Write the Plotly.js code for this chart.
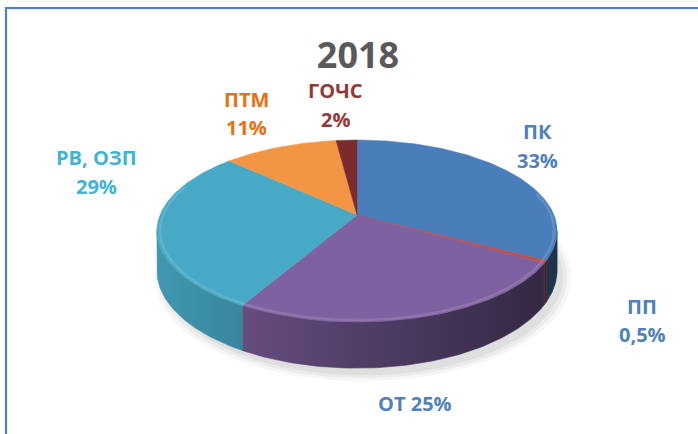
<!DOCTYPE html>
<html><head><meta charset="utf-8">
<script src="https://cdn.plot.ly/plotly-3.0.1.min.js"></script>
<style>html,body{margin:0;padding:0;background:#fff}</style>
</head><body><div id="chart" style="width:698px;height:434px"></div>
<script>
// ---- data ----
const categories = ['ПК', 'ПП', 'ОТ', 'РВ, ОЗП', 'ПТМ', 'ГОЧС'];
const values = [33, 0.5, 25, 29, 11, 2];
const percentLabels = ['33%', '0,5%', '25%', '29%', '11%', '2%'];
const chartTitle = '2018';

// ---- styles ----
const topColors = ['#4a7ebb', '#c0504d', '#7e61a0', '#47a9c5', '#f29644', '#7b2b2b'];
const labelColors = ['#4f81bd', '#4f81bd', '#4f81bd', '#40b4d2', '#e8700f', '#953734'];
// label anchor positions (pixel space): [x, yLine1, yLine2]
const labelPos = [[537, 131, 160], [642, 306, 334], [415, 403, null], [96, 157, 186], [246, 99, 127], [335, 90, 119]];

// geometry of the 3D pie (pixel space, simple perspective)
const cx = 357, cy = 215, halfW = 197, halfH = 88.2, persp = 0.176, depth = 38;

function hexToRgb(h){ h=h.replace('#',''); return [0,2,4].map(i=>parseInt(h.substr(i,2),16)); }
function shade(h,f){ const c=hexToRgb(h).map(v=>Math.max(0,Math.min(255,Math.round(v*f)))); return 'rgb('+c.join(',')+')'; }
function tint(h,f){ const c=hexToRgb(h).map(v=>Math.round(v+(255-v)*f)); return 'rgb('+c.join(',')+')'; }
function pt(theta, down, scale){
  const r=theta*Math.PI/180, k=(scale||1), d=1+persp*k*Math.cos(r);
  return [cx + halfW*k*Math.sin(r)/d, cy - halfH*k*Math.cos(r)/d + (down||0)/d];
}
function light(x){ return 0.9 - (x-157)/400*0.5; }

const total = values.reduce((s,v)=>s+v,0);
let acc = 0;
const slices = values.map((v,i)=>{ const t1 = acc/total*360; acc += v; const t2 = acc/total*360; return {i,t1,t2}; });
const silA = Math.acos(-persp)*180/Math.PI, silB = 360 - silA;

const traces = [];
// soft shadow
[[8,0.035],[4,0.045],[0,0.05]].forEach(([ex,op])=>{
  const xs=[],ys=[];
  for(let k=0;k<=180;k++){ const t=k*2; const p=pt(t,depth+6,1+ex/200); xs.push(p[0]+6); ys.push(p[1]); }
  traces.push({type:'scatter',x:xs,y:ys,mode:'lines',fill:'toself',fillcolor:'rgba(0,0,0,'+op+')',line:{width:0},hoverinfo:'skip',showlegend:false});
});

// side walls
slices.forEach(s=>{
  const lo=Math.max(s.t1,silA), hi=Math.min(s.t2,silB);
  if(hi<=lo) return;
  const n=Math.max(2,Math.ceil(hi-lo));
  const xs=[],ys=[];
  for(let k=0;k<=n;k++){ const p=pt(lo+(hi-lo)*k/n,0); xs.push(p[0]); ys.push(p[1]); }
  for(let k=n;k>=0;k--){ const p=pt(lo+(hi-lo)*k/n,depth); xs.push(p[0]); ys.push(p[1]); }
  xs.push(xs[0]); ys.push(ys[0]);
  const xmin=Math.min(...xs), xmax=Math.max(...xs);
  const base=topColors[s.i];
  traces.push({type:'scatter',x:xs,y:ys,mode:'lines',fill:'toself',
    line:{width:0.6,color:shade(base,light((xmin+xmax)/2))},
    fillgradient:{type:'horizontal',start:xmin,stop:xmax,colorscale:[[0,shade(base,light(xmin))],[1,shade(base,light(xmax))]]},
    hoverinfo:'skip',showlegend:false});
});

// top faces
slices.forEach(s=>{
  const n=Math.max(2,Math.ceil((s.t2-s.t1)));
  const xs=[cx],ys=[cy];
  for(let k=0;k<=n;k++){ const p=pt(s.t1+(s.t2-s.t1)*k/n,0); xs.push(p[0]); ys.push(p[1]); }
  xs.push(cx); ys.push(cy);
  traces.push({type:'scatter',x:xs,y:ys,mode:'lines',fill:'toself',fillcolor:topColors[s.i],
    line:{width:0.5,color:topColors[s.i]},name:categories[s.i],
    text:categories[s.i]+' '+percentLabels[s.i],hoverinfo:'text',showlegend:false});
});

// bevel highlight on the top rim
slices.forEach(s=>{
  const lo=Math.max(s.t1,75), hi=Math.min(s.t2,290);
  if(hi<=lo) return;
  const n=Math.max(2,Math.ceil(hi-lo));
  const xs=[],ys=[];
  for(let k=0;k<=n;k++){ const p=pt(lo+(hi-lo)*k/n,0,0.985); xs.push(p[0]); ys.push(p[1]); }
  traces.push({type:'scatter',x:xs,y:ys,mode:'lines',line:{width:2.5,color:tint(topColors[s.i],0.16)},opacity:0.8,hoverinfo:'skip',showlegend:false});
});

// labels
const annotations = [];
const fnt = (c)=>({family:'Open Sans, DejaVu Sans, sans-serif',size:20,color:c,weight:'bold'});
slices.forEach(s=>{
  const [x,y1,y2] = labelPos[s.i];
  if(y2===null){
    annotations.push({x:x,y:y1,xref:'x',yref:'y',text:categories[s.i]+' '+percentLabels[s.i],showarrow:false,font:fnt(labelColors[s.i]),xanchor:'center',yanchor:'middle'});
  } else {
    annotations.push({x:x,y:y1,xref:'x',yref:'y',text:categories[s.i],showarrow:false,font:fnt(labelColors[s.i]),xanchor:'center',yanchor:'middle'});
    annotations.push({x:x,y:y2,xref:'x',yref:'y',text:percentLabels[s.i],showarrow:false,font:fnt(labelColors[s.i]),xanchor:'center',yanchor:'middle'});
  }
});

const layout = {
  width:698, height:434,
  margin:{l:0,r:0,t:0,b:0},
  paper_bgcolor:'#ffffff', plot_bgcolor:'#ffffff',
  title:{text:chartTitle, x:358/698, xanchor:'center', y:1-55/434, yanchor:'middle', yref:'container', xref:'container',
    font:{family:'Open Sans, DejaVu Sans, sans-serif', size:36, color:'#595959', weight:'bold'}},
  xaxis:{range:[0,698],visible:false,fixedrange:true},
  yaxis:{range:[434,0],visible:false,fixedrange:true},
  showlegend:false,
  annotations:annotations,
  shapes:[
    {type:'rect',xref:'x',yref:'y',x0:6,y0:8,x1:760,y1:500,line:{color:'#4f81bd',width:2.2},layer:'above'},
    {type:'line',xref:'x',yref:'y',x0:8,y0:10,x1:760,y1:10,line:{color:'#dbe5f1',width:1},layer:'above'}
  ]
};
Plotly.newPlot('chart', traces, layout, {displayModeBar:false, staticPlot:true});
</script></body></html>
